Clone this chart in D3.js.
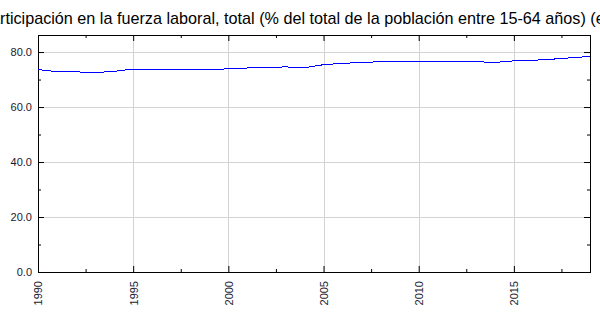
<!DOCTYPE html>
<html>
<head>
<meta charset="utf-8">
<script src="https://cdn.jsdelivr.net/npm/d3@7"></script>
<style>
  body { margin: 0; background: #fff; }
  svg { display: block; font-family: "Liberation Sans", Arial, sans-serif; }
</style>
</head>
<body>
<svg width="600" height="315"></svg>
<script>
// Data
const years = [1990, 1991, 1992, 1993, 1994, 1995, 1996, 1997, 1998, 1999,
  2000, 2001, 2002, 2003, 2004, 2005, 2006, 2007, 2008, 2009,
  2010, 2011, 2012, 2013, 2014, 2015, 2016, 2017, 2018, 2019];
const rates = [73.6, 72.9, 72.8, 72.5, 73.0, 73.8, 73.8, 73.6, 73.6, 73.6,
  73.9, 74.2, 74.4, 74.6, 74.3, 75.4, 75.9, 76.2, 76.5, 76.6,
  76.6, 76.6, 76.6, 76.5, 76.2, 76.8, 77.0, 77.4, 77.9, 78.4];
const xTicks = [1990, 1995, 2000, 2005, 2010, 2015];
const xMinor = [1992.5, 1997.5, 2002.5, 2007.5, 2012.5, 2017.5];
const yTicks = [0, 20, 40, 60, 80];
const yMinor = [10, 30, 50, 70];
const title = "Participación en la fuerza laboral, total (% del total de la población entre 15-64 años) (estimación OIT)";

const svg = d3.select("svg");
const m = { left: 38, right: 590, top: 35, bottom: 272 };

const x = d3.scaleLinear().domain([1990, 2019]).range([m.left, m.right]);
const y = d3.scaleLinear().domain([0, 86.2]).range([m.bottom, m.top]);

// title, shifted so the first two letters fall off the left edge (as in the original)
const t = svg.append("text")
  .attr("y", 24)
  .attr("font-size", 16.2)
  .attr("fill", "#000")
  .text("Pa");
const shift = t.node().getComputedTextLength();
t.attr("x", -shift).text(title);

// grid
svg.append("g").selectAll("line").data(xTicks.slice(1)).enter().append("line")
  .attr("x1", d => Math.round(x(d)) + 0.5).attr("x2", d => Math.round(x(d)) + 0.5)
  .attr("y1", m.top).attr("y2", m.bottom)
  .attr("stroke", "#d3d3d3");
svg.append("g").selectAll("line").data(yTicks.slice(1)).enter().append("line")
  .attr("x1", m.left).attr("x2", m.right)
  .attr("y1", d => Math.round(y(d)) + 0.5).attr("y2", d => Math.round(y(d)) + 0.5)
  .attr("stroke", "#d3d3d3");

// axes with inward ticks
const fmt = d3.format(".1f");
const axB = svg.append("g").attr("transform", `translate(0,${m.bottom})`)
  .call(d3.axisBottom(x).tickValues(xTicks).tickSize(-6).tickFormat(d3.format("d")));
axB.selectAll("text")
  .attr("transform", "rotate(-90)")
  .attr("text-anchor", "end")
  .attr("x", -9).attr("y", 0).attr("dy", "0.35em");
svg.append("g").attr("transform", `translate(0,${m.bottom})`)
  .call(d3.axisBottom(x).tickValues(xMinor).tickSize(-3).tickFormat(""));

svg.append("g").attr("transform", `translate(0,${m.top})`)
  .call(d3.axisTop(x).tickValues(xTicks.slice(1)).tickSize(-6).tickFormat(""));
svg.append("g").attr("transform", `translate(0,${m.top})`)
  .call(d3.axisTop(x).tickValues(xMinor).tickSize(-3).tickFormat(""));

svg.append("g").attr("transform", `translate(${m.left},0)`)
  .call(d3.axisLeft(y).tickValues(yTicks).tickSize(-6).tickPadding(6).tickFormat(fmt));
svg.append("g").attr("transform", `translate(${m.left},0)`)
  .call(d3.axisLeft(y).tickValues(yMinor).tickSize(-3).tickFormat(""));

svg.append("g").attr("transform", `translate(${m.right},0)`)
  .call(d3.axisRight(y).tickValues(yTicks).tickSize(-6).tickFormat(""));
svg.append("g").attr("transform", `translate(${m.right},0)`)
  .call(d3.axisRight(y).tickValues(yMinor).tickSize(-3).tickFormat(""));

svg.selectAll(".domain").attr("stroke", "#000");
svg.selectAll(".tick line").attr("stroke", "#000");
svg.selectAll(".tick text").attr("font-size", 11).attr("fill", "#1a1a2e")
  .attr("font-family", "\"Liberation Sans\", Arial, sans-serif");

// series
svg.append("path")
  .datum(years.map((yr, i) => [yr, rates[i]]))
  .attr("fill", "none")
  .attr("stroke", "#0000ff")
  .attr("stroke-width", 1)
  .attr("shape-rendering", "crispEdges")
  .attr("d", d3.line().x(d => x(d[0])).y(d => y(d[1])));
</script>
</body>
</html>
